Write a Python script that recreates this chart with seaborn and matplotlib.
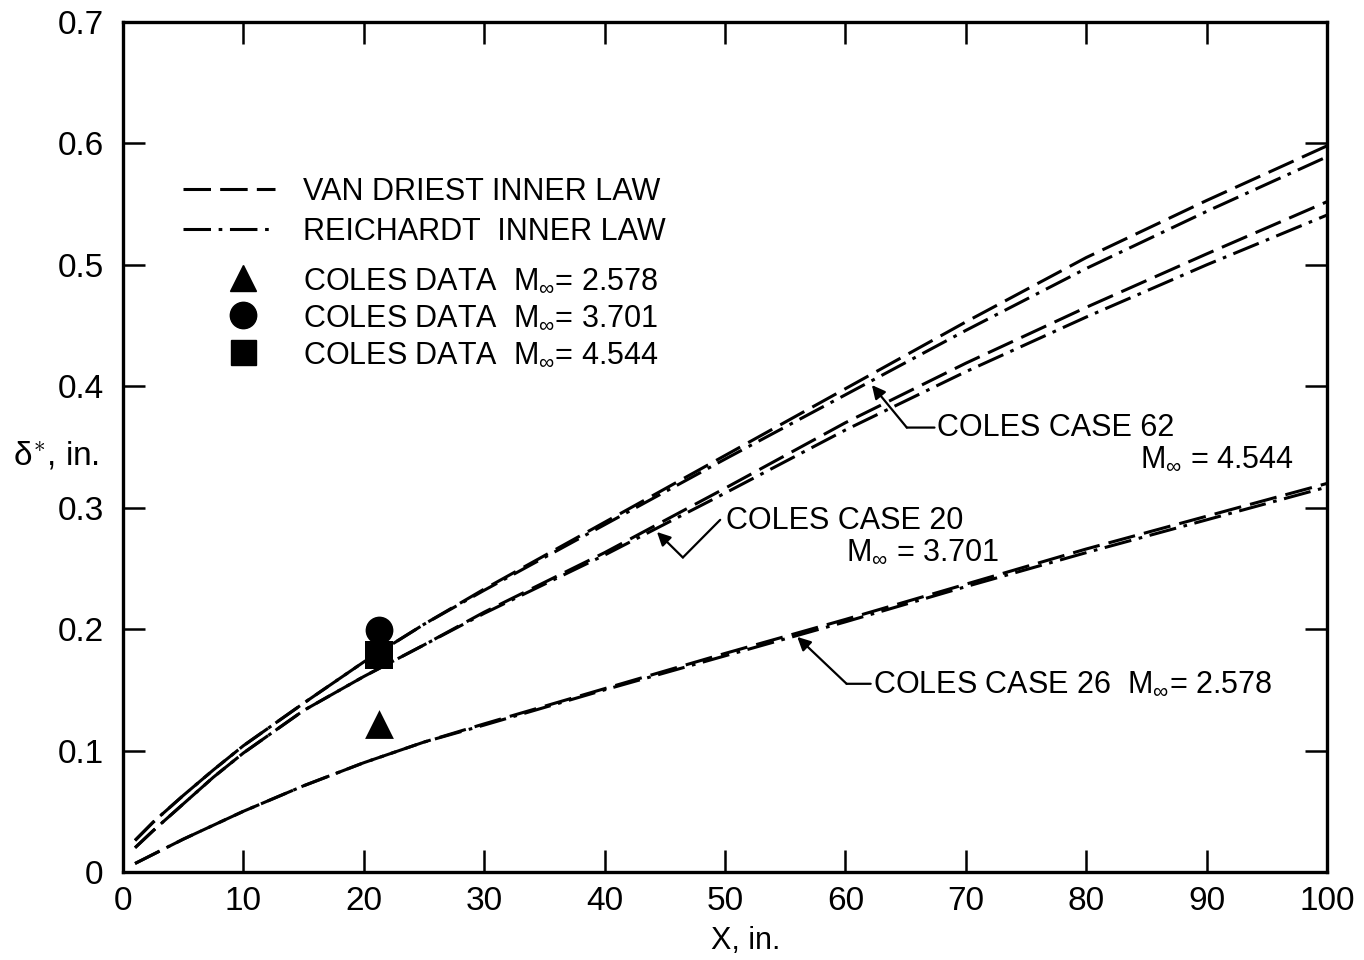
import numpy as np
import pandas as pd
import matplotlib
matplotlib.use("Agg")
import matplotlib.pyplot as plt
import seaborn as sns
from matplotlib.lines import Line2D

# ---------------- data ----------------
x_in = [1, 2.5, 5, 7.5, 10, 15, 20, 25, 30, 40, 50, 60, 70, 80, 90, 100]

case62_vandriest = [0.026, 0.041, 0.063, 0.084, 0.104, 0.139, 0.173, 0.204, 0.233,
                    0.288, 0.343, 0.398, 0.453, 0.506, 0.553, 0.598]
case62_reichardt = [0.026, 0.041, 0.063, 0.084, 0.104, 0.139, 0.173, 0.204, 0.232,
                    0.286, 0.340, 0.393, 0.446, 0.497, 0.544, 0.589]
case20_vandriest = [0.020, 0.034, 0.056, 0.078, 0.098, 0.133, 0.161, 0.187, 0.214,
                    0.263, 0.316, 0.370, 0.419, 0.465, 0.509, 0.552]
case20_reichardt = [0.020, 0.034, 0.056, 0.078, 0.098, 0.133, 0.161, 0.187, 0.213,
                    0.261, 0.312, 0.364, 0.412, 0.457, 0.500, 0.541]
case26_vandriest = [0.007, 0.0145, 0.027, 0.0385, 0.050, 0.071, 0.090, 0.107, 0.122,
                    0.151, 0.180, 0.208, 0.237, 0.266, 0.293, 0.320]
case26_reichardt = [0.007, 0.0145, 0.027, 0.0385, 0.050, 0.071, 0.090, 0.107, 0.121,
                    0.150, 0.178, 0.206, 0.235, 0.263, 0.290, 0.317]

coles_x = [21.3, 21.3, 21.3]
coles_y = [0.122, 0.199, 0.179]
coles_mach = ["2.578", "3.701", "4.544"]
coles_markers = ["^", "o", "s"]

x_ticks = [0, 10, 20, 30, 40, 50, 60, 70, 80, 90, 100]
y_ticks = [0, 0.1, 0.2, 0.3, 0.4, 0.5, 0.6, 0.7]
y_tick_labels = ["0", "0.1", "0.2", "0.3", "0.4", "0.5", "0.6", "0.7"]

legend_labels = ["VAN DRIEST INNER LAW", "REICHARDT  INNER LAW"]

# ---------------- style ----------------
sns.set_style("ticks")
FONT = ["Liberation Sans", "DejaVu Sans"]
plt.rcParams["font.family"] = FONT
plt.rcParams["text.color"] = "black"
plt.rcParams["axes.labelcolor"] = "black"
plt.rcParams["mathtext.fontset"] = "custom"
plt.rcParams["mathtext.rm"] = "Liberation Sans"
plt.rcParams["mathtext.it"] = "Liberation Sans"

DASHED = (0, (9, 3))
DASHDOT = (0, (9, 2.5, 1.2, 2.5))
LW = 2.2
FS = 22
TFS = 24

fig = plt.figure(figsize=(13.64, 9.6), dpi=100)
ax = fig.add_axes([123 / 1364, 1 - 872 / 960, 1204 / 1364, 850 / 960])

series = [
    (case62_vandriest, DASHED), (case62_reichardt, DASHDOT),
    (case20_vandriest, DASHED), (case20_reichardt, DASHDOT),
    (case26_vandriest, DASHED), (case26_reichardt, DASHDOT),
]
for yv, ls in series:
    df = pd.DataFrame({"x": x_in, "y": yv})
    sns.lineplot(data=df, x="x", y="y", ax=ax, color="black", lw=LW,
                 linestyle=ls, legend=False)

msizes = [430, 400, 380]
for xv, yv, mk, ms in zip(coles_x, coles_y, coles_markers, msizes):
    sns.scatterplot(x=[xv], y=[yv], marker=mk, s=ms, color="black",
                    edgecolor="black", linewidth=0, ax=ax, zorder=5, legend=False)

# ---------------- axes ----------------
ax.set_xlim(0, 100)
ax.set_ylim(0, 0.7)
ax.set_xticks(x_ticks)
ax.set_xticklabels([str(v) for v in x_ticks])
ax.set_yticks(y_ticks)
ax.set_yticklabels(y_tick_labels)
ax.tick_params(direction="in", length=16, width=1.8, top=True, right=True,
               labelsize=TFS, colors="black")
ax.tick_params(axis="x", pad=10)
ax.tick_params(axis="y", pad=14)
for sp in ax.spines.values():
    sp.set_visible(True)
    sp.set_linewidth(2.4)
    sp.set_color("black")

ax.set_xlabel("X, in.", fontsize=FS)
ax.xaxis.set_label_coords(0.517, -0.064)
ax.set_ylabel(r"$\delta^{\ast}$, in.", fontsize=24, rotation=0, va="center", ha="center")
ax.yaxis.set_label_coords(-0.056, 0.49)

# ---------------- legends ----------------
line_handles = [
    Line2D([], [], color="black", lw=LW, linestyle=DASHED),
    Line2D([], [], color="black", lw=LW, linestyle=DASHDOT),
]
leg1 = ax.legend(line_handles, legend_labels, loc="center left",
                 bbox_to_anchor=(0.0498, 0.777), frameon=False, fontsize=FS,
                 handlelength=3.0, handletextpad=0.92, labelspacing=0.33,
                 borderaxespad=0, borderpad=0)
ax.add_artist(leg1)

mk_handles, mk_labels = [], []
for mk, mach, ms in zip(coles_markers, coles_mach, [19, 19, 18]):
    mk_handles.append(Line2D([], [], color="black", marker=mk, markersize=ms, lw=0))
    mk_labels.append(r"COLES DATA  M$_{\infty}$= " + mach)
leg2 = ax.legend(mk_handles, mk_labels, loc="center left",
                 bbox_to_anchor=(0.074, 0.652), frameon=False, fontsize=FS,
                 handlelength=2.0, handletextpad=0.96, labelspacing=0.23,
                 borderaxespad=0, borderpad=0)

# ---------------- annotations ----------------
AR = dict(arrowstyle="-|>", color="black", lw=1.6, mutation_scale=20,
          shrinkA=0, shrinkB=0)
LN = dict(arrowstyle="-", color="black", lw=1.6, shrinkA=0, shrinkB=0)

# case 62
ax.annotate("", xy=(62.2, 0.401), xytext=(65.1, 0.366), arrowprops=AR)
ax.annotate("", xy=(65.1, 0.366), xytext=(67.4, 0.366), arrowprops=LN)
ax.text(67.6, 0.366, "COLES CASE 62", fontsize=FS, ha="left", va="center")
ax.text(97.3, 0.340, r"M$_{\infty}$ = 4.544", fontsize=FS, ha="right", va="center")

# case 20
ax.annotate("", xy=(44.35, 0.280), xytext=(46.5, 0.259), arrowprops=AR)
ax.annotate("", xy=(46.5, 0.259), xytext=(49.6, 0.290), arrowprops=LN)
ax.text(50.1, 0.289, "COLES CASE 20", fontsize=FS, ha="left", va="center")
ax.text(72.8, 0.264, r"M$_{\infty}$ = 3.701", fontsize=FS, ha="right", va="center")

# case 26
ax.annotate("", xy=(56.0, 0.1936), xytext=(60.1, 0.155), arrowprops=AR)
ax.annotate("", xy=(60.1, 0.155), xytext=(62.1, 0.155), arrowprops=LN)
ax.text(62.3, 0.155, r"COLES CASE 26  M$_{\infty}$= 2.578", fontsize=FS,
        ha="left", va="center")

fig.savefig("out.png", dpi=100)
